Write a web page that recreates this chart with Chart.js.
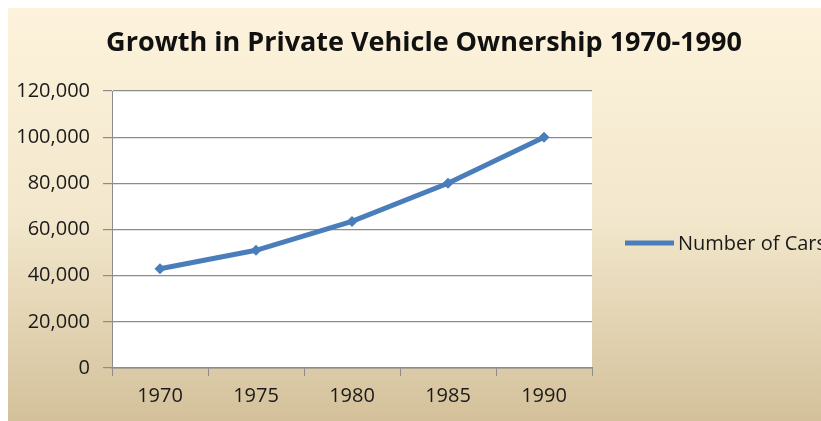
<!DOCTYPE html>
<html lang="en">
<head>
    <meta charset="UTF-8">
    <title>Growth in Private Vehicle Ownership 1970-1990</title>
    <script src="https://cdn.jsdelivr.net/npm/chart.js@4.4.4/dist/chart.umd.min.js"></script>
</head>
<body style="margin: 0; background: #ffffff; overflow: hidden;">
    <div style="width: 821px; height: 421px;">
        <canvas id="carsChart" width="821" height="421"></canvas>
    </div>

    <script>
        // Données du graphique
        const years = ['1970', '1975', '1980', '1985', '1990'];
        const numberOfCars = [43000, 51000, 63500, 80000, 100000];
        const seriesName = 'Number of Cars';
        const chartTitle = 'Growth in Private Vehicle Ownership 1970-1990';
        const yTicks = [0, 20000, 40000, 60000, 80000, 100000, 120000];

        const blue = '#4a7ebb';
        const fontFamily = '"Open Sans", "Liberation Sans", sans-serif';

        // Fond dégradé, zone blanche du tracé, titre et légende
        const slideDecor = {
            id: 'slideDecor',
            beforeDraw(chart) {
                const ctx = chart.ctx;
                const area = chart.chartArea;
                ctx.save();
                const g = ctx.createLinearGradient(0, 8, 0, chart.height);
                g.addColorStop(0, '#fdf3dc');
                g.addColorStop(0.5, '#f3e8cd');
                g.addColorStop(1, '#d4c19b');
                ctx.fillStyle = g;
                ctx.fillRect(8, 8, chart.width - 8, chart.height - 8);
                ctx.fillStyle = '#ffffff';
                ctx.fillRect(area.left, area.top, area.right - area.left, area.bottom - area.top);
                ctx.restore();
            },
            afterDraw(chart) {
                const ctx = chart.ctx;
                ctx.save();
                ctx.fillStyle = '#111111';
                ctx.textAlign = 'center';
                ctx.textBaseline = 'middle';
                ctx.font = 'bold 27px ' + fontFamily;
                ctx.fillText(chartTitle, 424, 43);

                // légende à droite (coupée par le bord)
                const ly = 243;
                ctx.strokeStyle = blue;
                ctx.lineWidth = 5;
                ctx.beginPath();
                ctx.moveTo(625, ly);
                ctx.lineTo(674, ly);
                ctx.stroke();
                ctx.textAlign = 'left';
                ctx.font = '20px ' + fontFamily;
                ctx.fillStyle = '#1a1a1a';
                ctx.fillText(chart.data.datasets[0].label, 678, ly + 1);
                ctx.restore();
            }
        };

        const ctx = document.getElementById('carsChart').getContext('2d');
        const chart = new Chart(ctx, {
            type: 'line',
            data: {
                labels: years,
                datasets: [{
                    label: seriesName,
                    data: numberOfCars,
                    borderColor: blue,
                    backgroundColor: blue,
                    borderWidth: 5,
                    pointStyle: 'rectRot',
                    pointRadius: 2,
                    tension: 0
                }]
            },
            options: {
                responsive: false,
                animation: false,
                layout: { padding: { top: 91, left: 0, right: 229, bottom: 0 } },
                plugins: {
                    legend: { display: false },
                    title: { display: false },
                    tooltip: { enabled: false }
                },
                scales: {
                    x: {
                        offset: true,
                        grid: {
                            offset: true,
                            drawOnChartArea: false,
                            color: '#8c8c8c',
                            tickLength: 8
                        },
                        border: { color: '#8c8c8c', width: 1.5 },
                        ticks: {
                            color: '#1a1a1a',
                            padding: 8,
                            font: { family: fontFamily, size: 20 }
                        },
                        afterFit(scale) { scale.height = 53; }
                    },
                    y: {
                        min: 0,
                        max: 120000,
                        afterBuildTicks(scale) {
                            scale.ticks = yTicks.map(v => ({ value: v }));
                        },
                        grid: {
                            color: '#8c8c8c',
                            lineWidth: 1.2,
                            tickLength: 9
                        },
                        border: { color: '#8c8c8c', width: 1 },
                        ticks: {
                            color: '#1a1a1a',
                            padding: 13,
                            font: { family: fontFamily, size: 20 },
                            callback: v => v.toLocaleString('en-US')
                        },
                        afterFit(scale) { scale.width = 112; }
                    }
                }
            },
            plugins: [slideDecor]
        });
    </script>
</body>
</html>
